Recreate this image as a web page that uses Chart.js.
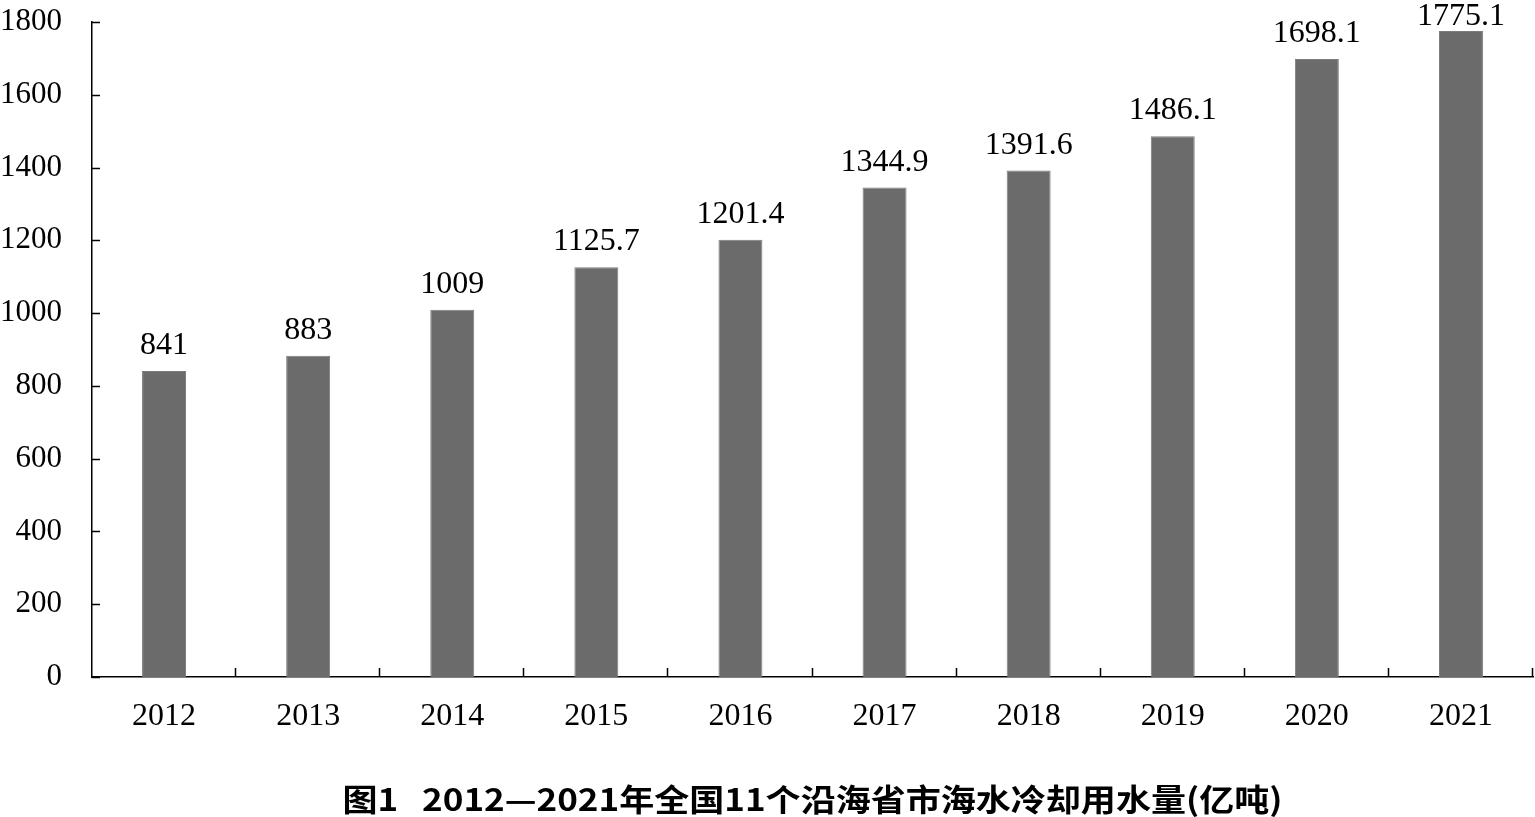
<!DOCTYPE html>
<html>
<head>
<meta charset="utf-8">
<script src="https://cdn.jsdelivr.net/npm/chart.js@4.4.1/dist/chart.umd.min.js"></script>
<style>
  html, body { margin: 0; padding: 0; background: #fff; }
  #wrap { width: 1535px; height: 817px; }
</style>
</head>
<body>
<div id="wrap"><canvas id="chart"></canvas></div>
<script>
// data
const years = ['2012', '2013', '2014', '2015', '2016', '2017', '2018', '2019', '2020', '2021'];
const coolingWater = [841, 883, 1009, 1125.7, 1201.4, 1344.9, 1391.6, 1486.1, 1698.1, 1775.1];
const valueLabels = ['841', '883', '1009', '1125.7', '1201.4', '1344.9', '1391.6', '1486.1', '1698.1', '1775.1'];
const yTicks = [0, 200, 400, 600, 800, 1000, 1200, 1400, 1600, 1800];
const captionText = '图1   2012—2021年全国11个沿海省市海水冷却用水量(亿吨)';

const serif = '"Liberation Serif", "Times New Roman", serif';
const PLOT_TOP = 22;

// inner tick marks, value labels above bars and the caption
const extras = {
    id: 'extras',
    afterLayout(chart) {
        // the layout leaves a gap above the plot; pull the y axis up to the top
        const a = chart.chartArea;
        const y = chart.scales.y;
        a.top = PLOT_TOP;
        a.height = a.bottom - PLOT_TOP;
        y.top = PLOT_TOP;
        y.height = y.bottom - PLOT_TOP;
        y.configure();
    },
    afterDraw(chart) {
        const ctx = chart.ctx;
        const x = chart.scales.x;
        const y = chart.scales.y;
        const area = chart.chartArea;
        ctx.save();
        ctx.strokeStyle = '#000';
        ctx.lineWidth = 1.5;
        ctx.beginPath();
        yTicks.forEach(v => {
            const py = Math.round(y.getPixelForValue(v)) + 0.5;
            ctx.moveTo(area.left, py);
            ctx.lineTo(area.left + 8, py);
        });
        const step = (x.right - x.left) / years.length;
        for (let i = 1; i <= years.length; i++) {
            const px = Math.round(x.left + i * step) - 0.5;
            ctx.moveTo(px, area.bottom);
            ctx.lineTo(px, area.bottom - 9);
        }
        ctx.stroke();

        // value labels
        ctx.fillStyle = '#000';
        ctx.font = '32px ' + serif;
        ctx.textAlign = 'center';
        ctx.textBaseline = 'alphabetic';
        const meta = chart.getDatasetMeta(0);
        meta.data.forEach((bar, i) => {
            const base = Math.max(bar.y - 17, 25);
            ctx.fillText(valueLabels[i], bar.x, base);
        });

        // caption, a wide bold hei font
        ctx.font = 'bold 31px "Noto Sans CJK SC", sans-serif';
        ctx.textBaseline = 'middle';
        const w = ctx.measureText(captionText).width;
        const sx = 940 / w;
        const cx = (area.left + area.right) / 2;
        ctx.translate(cx, 799);
        ctx.scale(sx, 1);
        ctx.fillText(captionText, 0, 0);
        ctx.restore();
    }
};

new Chart(document.getElementById('chart'), {
    type: 'bar',
    data: {
        labels: years,
        datasets: [{
            data: coolingWater,
            backgroundColor: '#6b6b6b',
            borderColor: '#7c7c7c',
            borderWidth: 1,
            barPercentage: 1,
            categoryPercentage: 0.305
        }]
    },
    options: {
        responsive: true,
        maintainAspectRatio: false,
        animation: false,
        devicePixelRatio: 1,
        layout: { autoPadding: false, padding: { left: 0, right: 2, top: 22, bottom: 83 } },
        plugins: {
            legend: { display: false },
            tooltip: { enabled: false },
            title: { display: false }
        },
        scales: {
            x: {
                grid: { display: false, drawTicks: false },
                border: { display: true, color: '#000', width: 1.5 },
                ticks: {
                    color: '#000',
                    font: { family: serif, size: 32 },
                    padding: 20,
                    maxRotation: 0
                },
                afterFit(scale) { scale.height = 57; }
            },
            y: {
                min: 0,
                max: 1800,
                grid: { display: false, drawTicks: false },
                border: { display: true, color: '#000', width: 1.5 },
                afterBuildTicks(scale) { scale.ticks = yTicks.map(v => ({ value: v })); },
                ticks: {
                    color: '#000',
                    font: { family: serif, size: 31 },
                    padding: 30,
                    callback: v => String(v)
                },
                afterFit(scale) { scale.width = 92; }
            }
        }
    },
    plugins: [extras]
});
</script>
</body>
</html>
